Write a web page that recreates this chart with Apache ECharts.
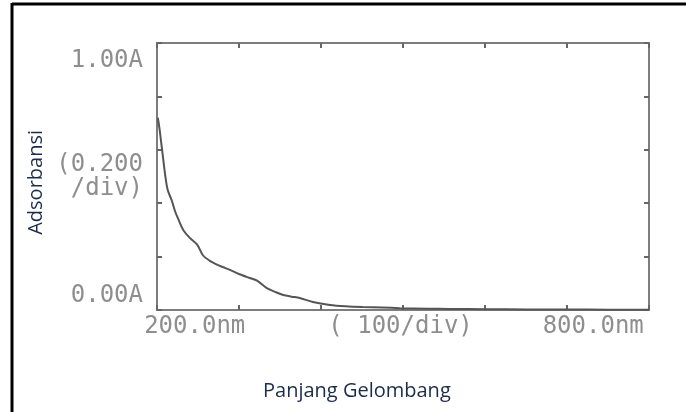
<!DOCTYPE html>
<html>
<head>
<meta charset="utf-8">
<script src="https://cdn.jsdelivr.net/npm/echarts@6/dist/echarts.min.js"></script>
<style>
    html, body {
        margin: 0;
        padding: 0;
        background: #fff;
    }
    #chart {
        width: 686px;
        height: 412px;
    }
</style>
</head>
<body>
<div id="chart"></div>
<script>
// spectrum trace
const wavelength = [201, 203, 205, 207, 210, 213, 218, 222, 226, 232, 240, 249, 256, 264, 273, 281, 289, 300, 313, 322, 334, 344, 354, 364, 374, 390, 411, 430, 451, 475, 496, 530, 557, 600, 650, 700, 750, 800]
const absorbance = [0.72, 0.68, 0.63, 0.58, 0.505, 0.45, 0.41, 0.37, 0.34, 0.30, 0.27, 0.245, 0.205, 0.185, 0.17, 0.16, 0.15, 0.135, 0.12, 0.11, 0.082, 0.068, 0.056, 0.05, 0.045, 0.03, 0.019, 0.014, 0.011, 0.009, 0.007, 0.005, 0.004, 0.003, 0.002, 0.002, 0.001, 0.001]

// printed labels of the instrument and where they sit on the scales
const xLabelValues = [246, 497, 732]
const xLabelTexts = ['200.0nm', '( 100/div)', '800.0nm']
const yLabelValues = [0.933, 0.5, 0.052]
const yLabelTexts = ['1.00A', '(0.200\n/div)', '0.00A']

const axisColor = '#7d7d7d'
const printColor = '#8e8e8e'
const monoFont = 'DejaVu Sans Mono'

const chart = echarts.init(document.getElementById('chart'))

const pick = (values, texts) => v => {
    for (let i = 0; i < values.length; i++) {
        if (Math.abs(v - values[i]) < 1e-6) return texts[i]
    }
    return ''
}

const frameAxis = {
    axisLine: {show: true, onZero: false, lineStyle: {color: axisColor, width: 2}},
    axisTick: {show: true, inside: true, length: 5, lineStyle: {color: '#666', width: 2}},
    axisLabel: {show: false},
    splitLine: {show: false}
}

let option = {
    animation: false,
    grid: {left: 157, right: 37, top: 43, bottom: 102},
    xAxis: [
        {
            type: 'value', position: 'bottom', min: 200, max: 800, interval: 100,
            ...frameAxis,
            axisLabel: {
                show: true,
                customValues: xLabelValues,
                formatter: pick(xLabelValues, xLabelTexts),
                color: printColor, fontFamily: monoFont, fontSize: 24, margin: 5
            }
        },
        {type: 'value', position: 'top', min: 200, max: 800, interval: 100, ...frameAxis}
    ],
    yAxis: [
        {
            type: 'value', position: 'left', min: 0, max: 1, interval: 0.2,
            ...frameAxis,
            axisLabel: {
                show: true,
                customValues: yLabelValues,
                formatter: pick(yLabelValues, yLabelTexts),
                color: printColor, fontFamily: monoFont, fontSize: 24, lineHeight: 24, margin: 14
            }
        },
        {type: 'value', position: 'right', min: 0, max: 1, interval: 0.2, ...frameAxis}
    ],
    graphic: [
        {type: 'line', shape: {x1: 12, y1: 4, x2: 686, y2: 4}, style: {stroke: '#000', lineWidth: 3}},
        {type: 'line', shape: {x1: 12, y1: 3, x2: 12, y2: 412}, style: {stroke: '#000', lineWidth: 3}},
        {
            type: 'text', left: 26, top: 130, rotation: Math.PI / 2, originX: 0, originY: 0,
            style: {text: 'Adsorbansi', fill: '#1d2b4d', font: '20px "Open Sans"', textAlign: 'center', textVerticalAlign: 'middle'}
        },
        {
            type: 'text', left: 263, top: 381,
            style: {text: 'Panjang Gelombang', fill: '#1d2b4d', font: '20px "Open Sans"'}
        }
    ],
    series: [
        {
            type: 'line',
            data: wavelength.map((w, i) => [w, absorbance[i]]),
            showSymbol: false,
            smooth: 0.3,
            lineStyle: {color: '#555', width: 2},
            z: 1
        }
    ]
}
chart.setOption(option, true)
</script>
</body>
</html>
